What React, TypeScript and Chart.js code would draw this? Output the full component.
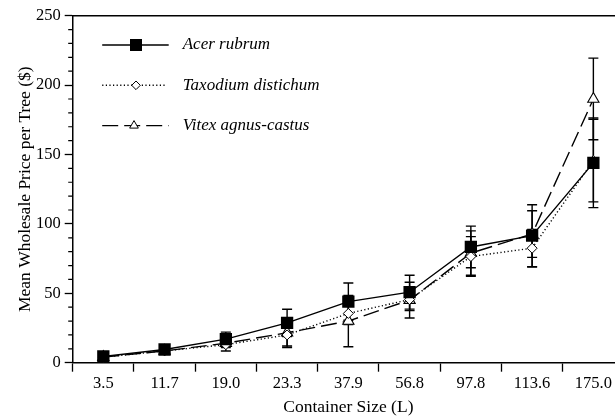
import React, { useEffect, useRef } from 'react';
import { Chart, registerables } from 'chart.js';

Chart.register(...registerables);

const categories = ['3.5', '11.7', '19.0', '23.3', '37.9', '56.8', '97.8', '113.6', '175.0'];
const seriesLabels = ['Acer rubrum', 'Taxodium distichum', 'Vitex agnus-castus'];

const acerValues = [4.5, 9.5, 17, 28.7, 44, 50.8, 83.4, 91.5, 144];
const acerErrors = [1.2, 1.8, 5, 9.8, 13.4, 12.2, 15, 22.3, 32.3];

const taxodiumValues = [4, 8.5, 13, 20, 35.5, 45.5, 76.5, 82.5, 145.6];
const taxodiumErrors = [1.2, 1.8, 4.6, 8, 8, 8, 14.3, 13.5, 29.7];

const vitexValues = [4, 8.5, 14, 21.6, 30, 45.1, 79, 92.7, 190];
const vitexErrors = [1.2, 1.8, 3, 10.6, 18.5, 12.9, 16, 16.8, 29.4];

const yMinorTicks = [10, 20, 30, 40, 60, 70, 80, 90, 110, 120, 130, 140, 160, 170, 180, 190, 210, 220, 230, 240];

const FONT = '"Liberation Serif", "Times New Roman", serif';

export default function App() {
  const ref = useRef<HTMLCanvasElement>(null);

  useEffect(() => {
    const canvas = ref.current;
    if (!canvas) return;

    const errorBars = {
      id: 'errorBars',
      beforeDatasetsDraw(chart: any) {
        const ctx = chart.ctx;
        const ys = chart.scales.y;
        chart.data.datasets.forEach((ds: any, i: number) => {
          const meta = chart.getDatasetMeta(i);
          meta.data.forEach((pt: any, j: number) => {
            const v = ds.data[j];
            const e = ds.errors[j];
            const yt = ys.getPixelForValue(v + e);
            const yb = ys.getPixelForValue(v - e);
            ctx.save();
            ctx.strokeStyle = '#000';
            ctx.lineWidth = 1.4;
            ctx.setLineDash([]);
            ctx.beginPath();
            ctx.moveTo(pt.x, yt);
            ctx.lineTo(pt.x, yb);
            ctx.moveTo(pt.x - 5, yt);
            ctx.lineTo(pt.x + 5, yt);
            ctx.moveTo(pt.x - 5, yb);
            ctx.lineTo(pt.x + 5, yb);
            ctx.stroke();
            ctx.restore();
          });
        });
      },
    };

    const frame = {
      id: 'frame',
      afterDraw(chart: any) {
        const ctx = chart.ctx;
        const a = chart.chartArea;
        const ys = chart.scales.y;
        ctx.save();
        ctx.strokeStyle = '#000';
        ctx.lineWidth = 1.4;
        ctx.beginPath();
        ctx.moveTo(a.left, a.top);
        ctx.lineTo(a.right, a.top);
        ctx.stroke();
        ctx.lineWidth = 1.2;
        ctx.beginPath();
        yMinorTicks.forEach((v) => {
          const y = ys.getPixelForValue(v);
          ctx.moveTo(a.left - 4.5, y);
          ctx.lineTo(a.left, y);
        });
        ctx.stroke();
        ctx.restore();
      },
    };

    const legendBox = {
      id: 'legendBox',
      afterDraw(chart: any) {
        const ctx = chart.ctx;
        const a = chart.chartArea;
        const x0 = a.left + 29.5;
        const x1 = a.left + 96;
        const cx = a.left + 63.3;
        ctx.save();
        ctx.strokeStyle = '#000';
        ctx.fillStyle = '#000';
        chart.data.datasets.forEach((ds: any, i: number) => {
          const cy = a.top + 29.3 + i * 40.3;
          ctx.lineWidth = ds.borderWidth;
          ctx.setLineDash(ds.borderDash || []);
          ctx.beginPath();
          ctx.moveTo(x0, cy);
          ctx.lineTo(i === 1 ? x1 - 3 : x1, cy);
          ctx.stroke();
          ctx.setLineDash([]);
          if (i === 0) {
            ctx.fillStyle = '#000';
            ctx.fillRect(cx - 6, cy - 6, 12, 12);
          } else if (i === 1) {
            const r = 4.3;
            ctx.beginPath();
            ctx.moveTo(cx, cy - r);
            ctx.lineTo(cx + r, cy);
            ctx.lineTo(cx, cy + r);
            ctx.lineTo(cx - r, cy);
            ctx.closePath();
            ctx.fillStyle = '#fff';
            ctx.fill();
            ctx.lineWidth = 1;
            ctx.stroke();
          } else {
            const r = 5;
            const tx = cx - 2;
            ctx.beginPath();
            ctx.moveTo(tx, cy - r);
            ctx.lineTo(tx + r * 0.866, cy + r / 2);
            ctx.lineTo(tx - r * 0.866, cy + r / 2);
            ctx.closePath();
            ctx.fillStyle = '#fff';
            ctx.fill();
            ctx.lineWidth = 1;
            ctx.stroke();
          }
          ctx.fillStyle = '#000';
          ctx.font = 'italic 17px ' + FONT;
          ctx.textAlign = 'left';
          ctx.textBaseline = 'middle';
          ctx.fillText(ds.label, a.left + 110, cy);
        });
        ctx.restore();
      },
    };

    const chart = new Chart(canvas, {
      type: 'line',
      data: {
        labels: categories,
        datasets: [
          {
            label: seriesLabels[0],
            data: acerValues,
            errors: acerErrors,
            borderColor: '#000',
            borderWidth: 1.4,
            pointStyle: 'rect',
            pointRadius: 8.7,
            pointBackgroundColor: '#000',
            pointBorderColor: '#000',
            pointBorderWidth: 0,
            tension: 0,
          } as any,
          {
            label: seriesLabels[1],
            data: taxodiumValues,
            errors: taxodiumErrors,
            borderColor: '#000',
            borderWidth: 1.4,
            borderDash: [1.2, 2.4],
            pointStyle: 'rectRot',
            pointRadius: 5,
            pointBackgroundColor: '#fff',
            pointBorderColor: '#000',
            pointBorderWidth: 1,
            tension: 0,
          } as any,
          {
            label: seriesLabels[2],
            data: vitexValues,
            errors: vitexErrors,
            borderColor: '#000',
            borderWidth: 1.4,
            borderDash: [16, 6],
            pointStyle: 'triangle',
            pointRadius: 6.5,
            pointBackgroundColor: '#fff',
            pointBorderColor: '#000',
            pointBorderWidth: 1.1,
            tension: 0,
          } as any,
        ],
      },
      options: {
        animation: false,
        responsive: false,
        devicePixelRatio: window.devicePixelRatio || 1,
        layout: { padding: { left: 15, top: 15.7, right: 16, bottom: 0 } },
        plugins: {
          legend: { display: false },
          tooltip: { enabled: false },
        },
        scales: {
          x: {
            type: 'category',
            offset: true,
            grid: {
              offset: true,
              drawOnChartArea: false,
              tickLength: 9,
              tickColor: '#000',
              tickWidth: 1.3,
            },
            border: { display: true, color: '#000', width: 1.5 },
            ticks: {
              color: '#000',
              font: { family: FONT, size: 16.5 },
              padding: 2,
              maxRotation: 0,
              autoSkip: false,
            },
            title: {
              display: true,
              text: 'Container Size (L)',
              color: '#000',
              font: { family: FONT, size: 17.5 },
              padding: { top: 0, bottom: 0 },
            },
            afterFit(scale: any) {
              scale.height = 55.3;
            },
          },
          y: {
            type: 'linear',
            min: 0,
            max: 250,
            ticks: {
              stepSize: 50,
              color: '#000',
              font: { family: FONT, size: 16.5 },
              padding: 4,
            },
            grid: {
              drawOnChartArea: false,
              tickLength: 8,
              tickColor: '#000',
              tickWidth: 1.3,
            },
            border: { display: true, color: '#000', width: 1.5 },
            title: {
              display: true,
              text: 'Mean Wholesale Price per Tree ($)',
              color: '#000',
              font: { family: FONT, size: 17.5 },
              padding: { top: 0, bottom: 0 },
            },
            afterFit(scale: any) {
              scale.width = 57.7;
            },
          },
        },
      } as any,
      plugins: [errorBars, frame, legendBox],
    });

    return () => chart.destroy();
  }, []);

  return (
    <div
      style={{
        position: 'fixed',
        left: 0,
        top: 0,
        width: 615,
        height: 418,
        overflow: 'hidden',
        background: '#fff',
      }}
    >
      <canvas ref={ref} width={640} height={418} style={{ display: 'block' }} />
    </div>
  );
}
